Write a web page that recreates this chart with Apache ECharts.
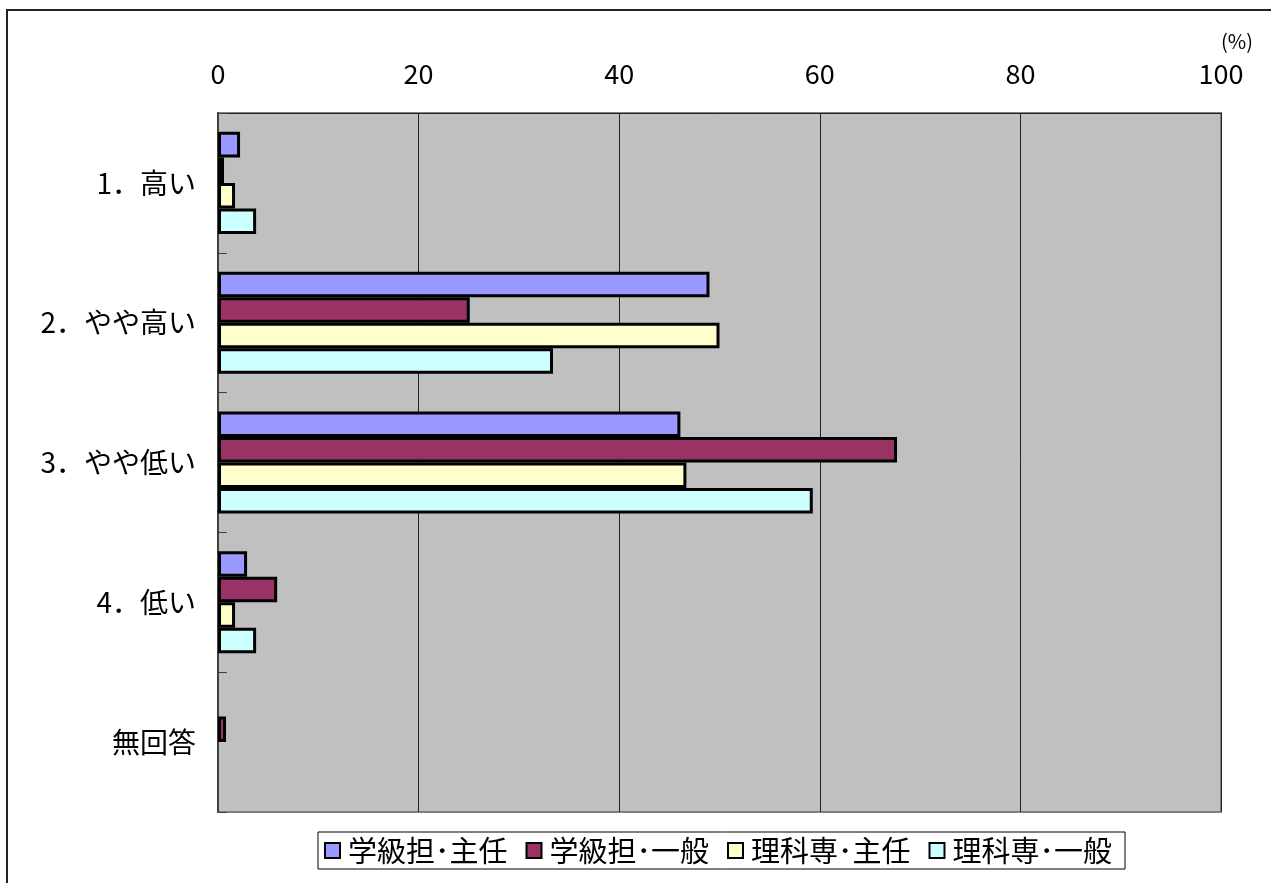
<!DOCTYPE html>
<html>
<head>
<meta charset="utf-8">
<script src="https://cdn.jsdelivr.net/npm/echarts@6/dist/echarts.min.js"></script>
<style>
  html, body { margin: 0; padding: 0; background: #fff; }
  #chart-container { width: 1271px; height: 883px; }
</style>
</head>
<body>
<div id="chart-container"></div>
<script>
var categories = ['1．高い', '2．やや高い', '3．やや低い', '4．低い', '無回答'];
var seriesNames = ['学級担･主任', '学級担･一般', '理科専･主任', '理科専･一般'];
var seriesColors = ['#9999FF', '#993366', '#FFFFCC', '#CCFFFF'];
var gakkyuShunin = [2.2, 49.0, 46.1, 2.9, 0];
var gakkyuIppan = [0.6, 25.1, 67.7, 5.9, 0.8];
var rikaShunin = [1.7, 50.0, 46.7, 1.7, 0];
var rikaIppan = [3.8, 33.4, 59.3, 3.8, 0];
var xTicks = [0, 20, 40, 60, 80, 100];

var font = '"Noto Sans CJK JP", "Noto Sans", sans-serif';
var dom = document.getElementById('chart-container');
var myChart = echarts.init(dom, null, { renderer: 'canvas' });

var values = [gakkyuShunin, gakkyuIppan, rikaShunin, rikaIppan];
var series = seriesNames.map(function (name, i) {
    return {
        name: name,
        type: 'bar',
        barGap: '0%',
        barCategoryGap: '27%',
        // zero values are not drawn (no empty border line)
        data: values[i].map(function (v) { return v === 0 ? '-' : v; }),
        itemStyle: {
            color: seriesColors[i],
            borderColor: '#000',
            borderWidth: 3
        }
    };
});

var option = {
    animation: false,
    backgroundColor: '#fff',
    textStyle: { fontFamily: font },
    grid: {
        left: 218, top: 113, right: 50, bottom: 71,
        show: true,
        backgroundColor: '#C0C0C0',
        borderColor: '#808080',
        borderWidth: 2
    },
    graphic: [
        {
            type: 'rect',
            shape: { x: 7, y: 10, width: 1400, height: 1000 },
            style: { fill: 'none', stroke: '#222', lineWidth: 2 },
            silent: true
        },
        {
            type: 'text',
            x: 1221, y: 31,
            style: { text: '(%)', font: '20px ' + font, fill: '#000' }
        }
    ],
    legend: {
        left: 318,
        top: 832,
        icon: 'rect',
        itemWidth: 15,
        itemHeight: 15,
        itemGap: 18,
        padding: [4, 13, 4, 6],
        backgroundColor: '#fff',
        borderColor: '#000',
        borderWidth: 1,
        itemStyle: { borderColor: '#000', borderWidth: 2 },
        textStyle: { fontSize: 29, color: '#000', fontFamily: font, padding: [0, 0, 0, 3] },
        data: seriesNames
    },
    xAxis: {
        type: 'value',
        position: 'top',
        min: xTicks[0],
        max: xTicks[xTicks.length - 1],
        interval: 20,
        axisLine: { show: true, lineStyle: { color: '#222', width: 1 } },
        axisTick: { show: false },
        axisLabel: { fontSize: 27, color: '#000', margin: 26 },
        splitLine: { show: true, lineStyle: { color: '#222', width: 1 } }
    },
    yAxis: {
        type: 'category',
        inverse: true,
        data: categories,
        axisLine: { show: true, lineStyle: { color: '#404040', width: 2 } },
        axisTick: { show: true, inside: true, length: 9, lineStyle: { color: '#404040' } },
        axisLabel: { fontSize: 28, color: '#000', margin: 22 }
    },
    series: series
};

myChart.setOption(option);
window.addEventListener('resize', myChart.resize);
</script>
</body>
</html>
